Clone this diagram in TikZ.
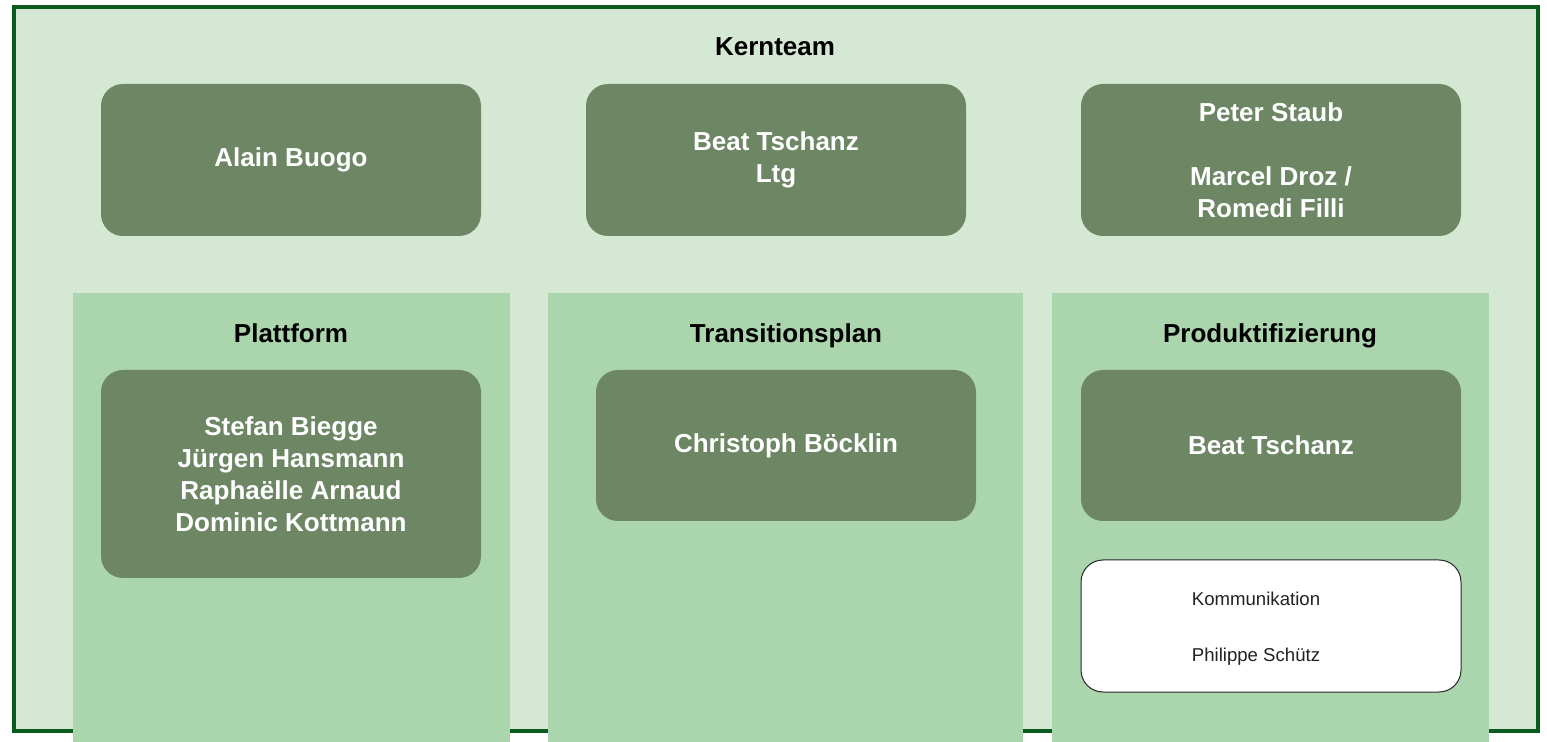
\documentclass[tikz,border=0pt]{standalone}
\usepackage{fontspec}
\setmainfont{Liberation Sans}
\definecolor{outerfill}{HTML}{D5E8D4}
\definecolor{outerline}{HTML}{0B5A1E}
\definecolor{colfill}{HTML}{ABD5AD}
\definecolor{boxfill}{HTML}{6D8764}
\definecolor{notetext}{HTML}{222222}
\tikzset{
  px/.style={x=0.5pt,y=-0.5pt},
  frame/.style={draw=outerline,line width=1.6pt,fill=outerfill,rectangle,inner sep=0pt},
  column/.style={fill=colfill,draw=none,rectangle,inner sep=0pt},
  person/.style={fill=boxfill,draw=none,rounded corners=11pt,inner sep=0pt,align=center,
    text=white,font=\fontsize{13}{16}\selectfont\bfseries},
  note/.style={fill=white,draw=black!85,line width=0.5pt,rounded corners=11pt,inner sep=0pt},
  notetxt/.style={align=center,inner sep=0pt,text=notetext,font=\fontsize{9.3}{14}\selectfont},
  title/.style={font=\fontsize{13}{16}\selectfont\bfseries,inner sep=0pt,anchor=base},
}
\begin{document}
\begin{tikzpicture}[px]
\useasboundingbox (0,0) rectangle (1547,742);
\clip (0,0) rectangle (1547,742);
\fill[white] (0,0) rectangle (1547,742);
\node[frame,minimum width=762pt,minimum height=362pt] (kern) at (776,369) {};
\node[title] (kerntitle) at (775,56) {Kernteam};
\node[person,minimum width=190pt,minimum height=76pt] (alain) at (291,160) {Alain Buogo};
\node[person,minimum width=190pt,minimum height=76pt] (beat) at (776,160) {Beat Tschanz\\Ltg};
\node[person,minimum width=190pt,minimum height=76pt] (peter) at (1271,160) {Peter Staub\\[16pt]Marcel Droz /\\Romedi Filli};
\node[column,minimum width=218.5pt,minimum height=233.5pt] (plattform) at (291.5,526.5) {};
\node[column,minimum width=237.5pt,minimum height=233.5pt] (transition) at (785.5,526.5) {};
\node[column,minimum width=218.5pt,minimum height=233.5pt] (produkt) at (1270.5,526.5) {};
\node[title] (plattformtitle) at (291,343) {Plattform};
\node[title] (transitiontitle) at (786,343) {Transitionsplan};
\node[title] (produkttitle) at (1270,343) {Produktifizierung};
\node[person,minimum width=190pt,minimum height=104pt] (team) at (291,474) {Stefan Biegge\\J\"urgen Hansmann\\Rapha\"elle Arnaud\\Dominic Kottmann};
\node[person,minimum width=190pt,minimum height=75.5pt] (christoph) at (786,445.5) {Christoph B\"ocklin};
\node[person,minimum width=190pt,minimum height=75.5pt] (beat2) at (1271,445.5) {Beat Tschanz};
\node[note,minimum width=190pt,minimum height=66pt] (komm) at (1271,626) {};
\node[notetxt] (kommtext) at (1256,629) {Kommunikation\\[14pt]Philippe Sch\"utz};
\end{tikzpicture}
\end{document}
